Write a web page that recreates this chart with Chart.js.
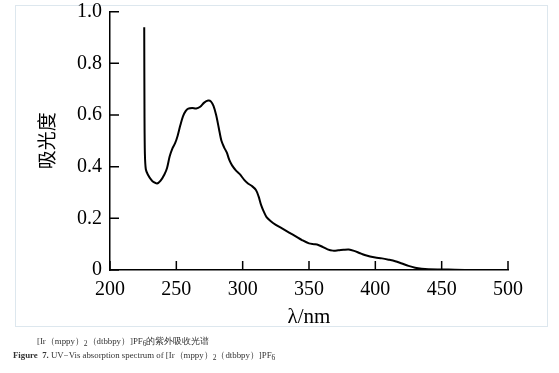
<!DOCTYPE html>
<html>
<head>
<meta charset="utf-8">
<script src="https://cdn.jsdelivr.net/npm/chart.js@4.4.1/dist/chart.umd.min.js"></script>
<style>
  body { margin: 0; background: #fff; }
  #wrap { position: relative; width: 559px; height: 373px; }
  #frame { position: absolute; left: 15px; top: 5px; width: 531px; height: 320px; border: 1px solid #dde7ee; }
  #chartBox { position: absolute; left: 0; top: 0; width: 559px; height: 373px; }
  .cap { position: absolute; font-family: "Liberation Serif", serif; font-size: 8.8px; color: #333; white-space: nowrap; }
  .cap sub { font-size: 7.5px; vertical-align: -2px; }
</style>
</head>
<body>
<div id="wrap">
  <div id="frame"></div>
  <div id="chartBox"><canvas id="uvChart"></canvas></div>
  <div class="cap" style="left:37px; top:336px;">[Ir（mppy）<sub>2</sub>（dtbbpy）]PF<sub>6</sub>的紫外吸收光谱</div>
  <div class="cap" style="left:13px; top:350px;"><b>Figure&nbsp; 7.</b> UV−Vis absorption spectrum of [Ir（mppy）<sub>2</sub>（dtbbpy）]PF<sub>6</sub></div>
</div>
<script>
// 波長 (nm) と吸光度: 図から読み取った値
const wavelengths = [225.8, 226.0, 226.3, 227, 228.5, 231, 233, 235.5, 238, 241, 243, 245, 247, 249, 251, 253, 255, 257, 259, 262, 265, 268, 271, 274, 276, 278, 280, 282, 284, 286, 288, 290, 292, 295, 298, 301, 304, 307, 310, 312, 314, 316, 318, 321, 325, 330, 335, 340, 345, 350, 354, 357, 360, 364, 368, 372, 376, 380, 384, 388, 392, 396, 400, 405, 410, 415, 420, 425, 430, 435, 440, 450, 460, 475, 500]
const absorbance = [0.94, 0.60, 0.45, 0.39, 0.37, 0.35, 0.34, 0.335, 0.345, 0.37, 0.395, 0.44, 0.47, 0.49, 0.52, 0.56, 0.595, 0.615, 0.625, 0.627, 0.625, 0.632, 0.648, 0.656, 0.653, 0.635, 0.6, 0.55, 0.5, 0.475, 0.455, 0.425, 0.405, 0.385, 0.37, 0.35, 0.335, 0.325, 0.31, 0.285, 0.25, 0.225, 0.205, 0.19, 0.175, 0.16, 0.145, 0.13, 0.115, 0.103, 0.1, 0.097, 0.09, 0.08, 0.075, 0.076, 0.078, 0.079, 0.074, 0.066, 0.058, 0.052, 0.048, 0.045, 0.04, 0.034, 0.025, 0.016, 0.009, 0.005, 0.003, 0.002, 0.001, 0.0, 0.0]
const xTicks = [200, 250, 300, 350, 400, 450, 500]
const yTicks = [0, 0.2, 0.4, 0.6, 0.8, 1.0]

const tickFont = { family: '"Liberation Serif", serif', size: 20 }

// 内向きの目盛り線
const inwardTicks = {
  id: 'inwardTicks',
  afterDraw(chart) {
    const { ctx, scales: { x, y } } = chart
    ctx.save()
    ctx.strokeStyle = '#000'
    ctx.lineWidth = 1.5
    ctx.beginPath()
    xTicks.forEach((v) => {
      const px = x.getPixelForValue(v)
      ctx.moveTo(px, y.bottom)
      ctx.lineTo(px, y.bottom - 9)
    })
    yTicks.forEach((v) => {
      const py = y.getPixelForValue(v)
      ctx.moveTo(x.left, py)
      ctx.lineTo(x.left + 9, py)
    })
    ctx.stroke()
    ctx.restore()
  }
}

document.addEventListener('DOMContentLoaded', () => {
  const ctx = document.querySelector('#uvChart')
  new Chart(ctx, {
    type: 'scatter',
    data: {
      datasets: [{
        data: wavelengths.map((w, i) => ({ x: w, y: absorbance[i] })),
        showLine: true,
        borderColor: '#000',
        borderWidth: 2,
        pointRadius: 0,
        tension: 0.3
      }]
    },
    options: {
      responsive: true,
      maintainAspectRatio: false,
      animation: false,
      layout: { padding: { top: 0, right: 51, left: 0, bottom: 0 } },
      plugins: { legend: { display: false }, tooltip: { enabled: false } },
      scales: {
        x: {
          type: 'linear',
          min: 200,
          max: 500,
          afterBuildTicks: (s) => { s.ticks = xTicks.map((v) => ({ value: v })) },
          afterFit: (s) => { s.height = 103 },
          grid: { display: false, drawTicks: false },
          border: { display: true, color: '#000', width: 1.5 },
          ticks: { color: '#000', font: tickFont, padding: 7.5, maxRotation: 0 },
          title: { display: true, text: 'λ/nm', color: '#000', font: { family: '"Liberation Serif", serif', size: 21 }, padding: { top: 0, bottom: 43 } }
        },
        y: {
          min: 0,
          max: 1,
          afterBuildTicks: (s) => { s.ticks = yTicks.map((v) => ({ value: v })) },
          afterFit: (s) => { s.width = 110; s.paddingTop = 11.7; s.paddingBottom = 0 },
          grid: { display: false, drawTicks: false },
          border: { display: true, color: '#000', width: 1.5 },
          ticks: {
            color: '#000',
            font: tickFont,
            padding: 8,
            callback: (v) => v === 0 ? '0' : v.toFixed(1)
          },
          title: { display: true, text: '吸光度', color: '#000', font: { family: '"Noto Sans CJK SC", sans-serif', size: 19 }, padding: { top: 35, bottom: 0 } }
        }
      }
    },
    plugins: [inwardTicks]
  })
})
</script>
</body>
</html>
